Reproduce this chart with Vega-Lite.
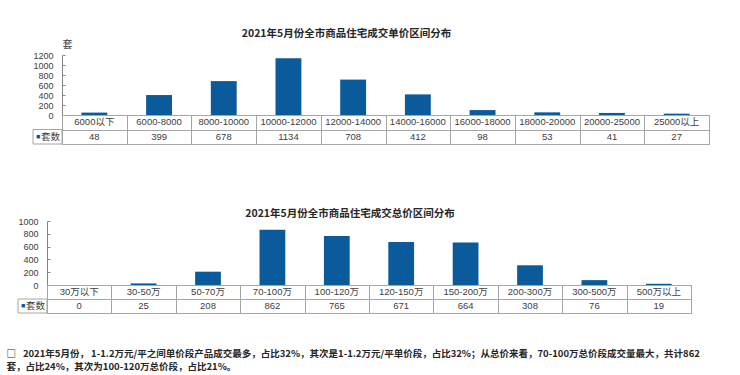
{
  "$schema": "https://vega.github.io/schema/vega-lite/v6.json",
  "padding": {"top": 28, "left": 6, "right": 5, "bottom": 1},
  "background": "white",
  "config": {
    "view": {"stroke": null},
    "font": "Liberation Sans, Noto Sans CJK SC",
    "text": {"font": "Liberation Sans, Noto Sans CJK SC"},
    "title": {"font": "Noto Sans CJK SC"}
  },
  "datasets": {
    "price": [
      {"cat": "6000以下", "n": 48},
      {"cat": "6000-8000", "n": 399},
      {"cat": "8000-10000", "n": 678},
      {"cat": "10000-12000", "n": 1134},
      {"cat": "12000-14000", "n": 708},
      {"cat": "14000-16000", "n": 412},
      {"cat": "16000-18000", "n": 98},
      {"cat": "18000-20000", "n": 53},
      {"cat": "20000-25000", "n": 41},
      {"cat": "25000以上", "n": 27}
    ],
    "total": [
      {"cat": "30万以下", "n": 0},
      {"cat": "30-50万", "n": 25},
      {"cat": "50-70万", "n": 208},
      {"cat": "70-100万", "n": 862},
      {"cat": "100-120万", "n": 765},
      {"cat": "120-150万", "n": 671},
      {"cat": "150-200万", "n": 664},
      {"cat": "200-300万", "n": 308},
      {"cat": "300-500万", "n": 76},
      {"cat": "500万以上", "n": 19}
    ]
  },
  "title": {
    "text": ["□\u2002 2021年5月份， 1-1.2万元/平之间单价段产品成交最多，占比32%，其次是1-1.2万元/平单价段，占比32%；从总价来看，70-100万总价段成交量最大，共计862", "\u3000\u3000套，占比24%，其次为100-120万总价段，占比21%。"],
    "orient": "bottom", "anchor": "start", "frame": "bounds", "dx": -11, "offset": 35,
    "fontSize": 9.5, "fontWeight": "bold", "color": "#262626", "lineHeight": 13, "baseline": "top", "limit": 0
  },
  "spacing": 63,
  "vconcat": [
    {
      "columns": 3,
      "spacing": 0,
      "bounds": "flush",
      "align": "each",
      "concat": [
        {"width": 15, "height": 60, "data": {"values": [{}]}, "mark": {"type": "text", "text": ""}},
        {"width": 29, "height": 60, "data": {"values": [{}]}, "mark": {"type": "text", "text": ""}},
        {
          "width": 647, "height": 60,
          "data": {"name": "price"},
          "title": {"text": "2021年5月份全市商品住宅成交单价区间分布", "anchor": "middle", "frame": "group", "dx": -39, "offset": -8, "fontSize": 10.5, "fontWeight": "bold", "color": "#262626", "baseline": "alphabetic"},
          "mark": {"type": "bar", "color": "#0a5a9c"},
          "encoding": {
            "x": {"field": "cat", "type": "nominal", "sort": null, "scale": {"paddingInner": 0.6, "paddingOuter": 0.3}, "axis": null},
            "y": {"field": "n", "type": "quantitative", "scale": {"domain": [0, 1200]},
              "axis": {"values": [0, 200, 400, 600, 800, 1000, 1200], "format": "d", "title": "套", "titleAngle": 0, "titleX": 0, "titleY": -8, "titleAlign": "left", "titleBaseline": "alphabetic", "titleFontWeight": "normal", "titleFontSize": 10, "titleColor": "#404040", "titleFont": "Noto Sans CJK SC", "grid": false, "domainColor": "#868686", "tickColor": "#868686", "tickSize": -3, "labelPadding": 12, "labelFontSize": 9, "labelColor": "#404040"}}
          }
        },
        {"width": 15, "height": 29, "data": {"values": [{}]}, "mark": {"type": "text", "text": ""}},
        {
          "width": 29, "height": 29,
          "data": {"values": [{}]},
          "encoding": {"y": {"datum": "r2", "type": "nominal", "scale": {"type": "band", "domain": ["r1", "r2"], "paddingInner": 0, "paddingOuter": 0}, "axis": null}},
          "layer": [
            {"mark": {"type": "rect", "fill": "white", "stroke": "#a6a6a6", "strokeWidth": 1}},
            {"mark": {"type": "text", "text": "■", "color": "#0a5a9c", "fontSize": 7, "dx": -9.5}},
            {"mark": {"type": "text", "text": "套数", "color": "#404040", "fontSize": 9.5, "dx": 3}}
          ]
        },
        {
          "width": 647, "height": 29,
          "data": {"name": "price"},
          "view": {"stroke": "#a6a6a6"},
          "encoding": {
            "x": {"field": "cat", "type": "nominal", "sort": null, "scale": {"type": "band", "paddingInner": 0, "paddingOuter": 0},
              "axis": {"grid": true, "tickBand": "extent", "labels": false, "ticks": false, "domain": false, "title": null, "gridColor": "#a6a6a6"}}
          },
          "layer": [
            {"mark": {"type": "text", "fontSize": 9.5, "color": "#404040"},
              "encoding": {
                "y": {"datum": "r1", "type": "nominal", "scale": {"type": "band", "domain": ["r1", "r2"], "paddingInner": 0, "paddingOuter": 0}, "axis": {"grid": true, "tickBand": "extent", "labels": false, "ticks": false, "domain": false, "title": null, "gridColor": "#a6a6a6"}},
                "text": {"field": "cat"}}},
            {"mark": {"type": "text", "fontSize": 9.5, "color": "#404040"},
              "encoding": {
                "y": {"datum": "r2", "type": "nominal", "scale": {"type": "band", "domain": ["r1", "r2"], "paddingInner": 0, "paddingOuter": 0}, "axis": {"grid": true, "tickBand": "extent", "labels": false, "ticks": false, "domain": false, "title": null, "gridColor": "#a6a6a6"}},
                "text": {"field": "n"}}}
          ]
        }
      ]
    },
    {
      "columns": 2,
      "spacing": 0,
      "bounds": "flush",
      "align": "each",
      "concat": [
        {"width": 29, "height": 64, "data": {"values": [{}]}, "mark": {"type": "text", "text": ""}},
        {
          "width": 644, "height": 64,
          "data": {"name": "total"},
          "title": {"text": "2021年5月份全市商品住宅成交总价区间分布", "anchor": "middle", "frame": "group", "dx": -19, "offset": -10, "fontSize": 10.5, "fontWeight": "bold", "color": "#262626", "baseline": "alphabetic"},
          "mark": {"type": "bar", "color": "#0a5a9c"},
          "encoding": {
            "x": {"field": "cat", "type": "nominal", "sort": null, "scale": {"paddingInner": 0.6, "paddingOuter": 0.3}, "axis": null},
            "y": {"field": "n", "type": "quantitative", "scale": {"domain": [0, 1000]},
              "axis": {"values": [0, 200, 400, 600, 800, 1000], "format": "d", "title": null, "grid": false, "domainColor": "#868686", "tickColor": "#868686", "tickSize": -3, "labelPadding": 12, "labelFontSize": 9, "labelColor": "#404040"}}
          }
        },
        {
          "width": 29, "height": 28,
          "data": {"values": [{}]},
          "encoding": {"y": {"datum": "r2", "type": "nominal", "scale": {"type": "band", "domain": ["r1", "r2"], "paddingInner": 0, "paddingOuter": 0}, "axis": null}},
          "layer": [
            {"mark": {"type": "rect", "fill": "white", "stroke": "#a6a6a6", "strokeWidth": 1}},
            {"mark": {"type": "text", "text": "■", "color": "#0a5a9c", "fontSize": 7, "dx": -9.5}},
            {"mark": {"type": "text", "text": "套数", "color": "#404040", "fontSize": 9.5, "dx": 3}}
          ]
        },
        {
          "width": 644, "height": 28,
          "data": {"name": "total"},
          "view": {"stroke": "#a6a6a6"},
          "encoding": {
            "x": {"field": "cat", "type": "nominal", "sort": null, "scale": {"type": "band", "paddingInner": 0, "paddingOuter": 0},
              "axis": {"grid": true, "tickBand": "extent", "labels": false, "ticks": false, "domain": false, "title": null, "gridColor": "#a6a6a6"}}
          },
          "layer": [
            {"mark": {"type": "text", "fontSize": 9.5, "color": "#404040"},
              "encoding": {
                "y": {"datum": "r1", "type": "nominal", "scale": {"type": "band", "domain": ["r1", "r2"], "paddingInner": 0, "paddingOuter": 0}, "axis": {"grid": true, "tickBand": "extent", "labels": false, "ticks": false, "domain": false, "title": null, "gridColor": "#a6a6a6"}},
                "text": {"field": "cat"}}},
            {"mark": {"type": "text", "fontSize": 9.5, "color": "#404040"},
              "encoding": {
                "y": {"datum": "r2", "type": "nominal", "scale": {"type": "band", "domain": ["r1", "r2"], "paddingInner": 0, "paddingOuter": 0}, "axis": {"grid": true, "tickBand": "extent", "labels": false, "ticks": false, "domain": false, "title": null, "gridColor": "#a6a6a6"}},
                "text": {"field": "n"}}}
          ]
        }
      ]
    }
  ]
}
